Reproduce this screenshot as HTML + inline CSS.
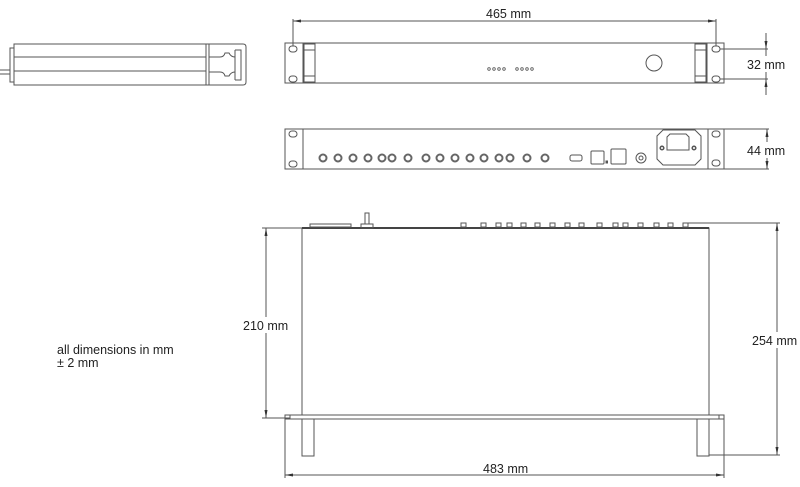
<!DOCTYPE html>
<html><head><meta charset="utf-8"><style>
html,body{margin:0;padding:0;background:#fff;width:800px;height:487px;overflow:hidden}
svg{display:block}
text{font-family:"Liberation Sans",Arial,sans-serif;font-size:12.5px;fill:#222}
</style></head><body>
<svg width="800" height="487" viewBox="0 0 800 487" xmlns="http://www.w3.org/2000/svg">
<g fill="none" stroke="#555" stroke-width="1">
<!-- side view -->
<line x1="0" y1="70" x2="10" y2="70"/><line x1="0" y1="74" x2="10" y2="74"/>
<rect x="10" y="48" width="4" height="34"/>
<rect x="14" y="44" width="192" height="41"/>
<line x1="14" y1="57" x2="206" y2="57"/><line x1="14" y1="71" x2="206" y2="71"/>
<rect x="206" y="44" width="3" height="41"/>
<path d="M209 44 H243 Q246 44 246 47 V82 Q246 85 243 85 H209"/>
<path d="M235 50 V80"/>
<path d="M209 57 H220 Q224 57 225 53 H229 Q231 57 235 57"/>
<path d="M209 72 H220 Q224 72 225 76 H229 Q231 72 235 72"/>
<path d="M235 50 H241 V80 H235"/>

<!-- front view -->
<rect x="285" y="43" width="439" height="40"/>
<line x1="303" y1="43" x2="303" y2="83"/><line x1="707" y1="43" x2="707" y2="83"/>
<rect x="304" y="44" width="11" height="38"/><line x1="304" y1="50" x2="315" y2="50"/><line x1="304" y1="76" x2="315" y2="76"/>
<rect x="695" y="44" width="11" height="38"/><line x1="695" y1="50" x2="706" y2="50"/><line x1="695" y1="76" x2="706" y2="76"/>
<rect x="289" y="46" width="8" height="6" rx="3"/><rect x="289" y="76" width="8" height="6" rx="3"/>
<rect x="712" y="46" width="8" height="6" rx="3"/><rect x="712" y="76" width="8" height="6" rx="3"/>
<circle cx="654" cy="63" r="8"/>
<g stroke-width="0.8">
<circle cx="489" cy="69" r="1.3"/><circle cx="494" cy="69" r="1.3"/><circle cx="499" cy="69" r="1.3"/><circle cx="504" cy="69" r="1.3"/>
<circle cx="517" cy="69" r="1.3"/><circle cx="522" cy="69" r="1.3"/><circle cx="527" cy="69" r="1.3"/><circle cx="532" cy="69" r="1.3"/>
</g>
<!-- 465 dim -->
<line x1="293" y1="21" x2="716" y2="21"/>
<line x1="293" y1="19" x2="293" y2="46"/><line x1="716" y1="19" x2="716" y2="46"/>
<!-- 32 dim -->
<line x1="720" y1="49" x2="768" y2="49"/><line x1="720" y1="79" x2="768" y2="79"/>
<line x1="766" y1="33" x2="766" y2="95"/>

<!-- rear view -->
<rect x="285" y="129" width="439" height="40"/>
<line x1="303" y1="129" x2="303" y2="169"/><line x1="708" y1="129" x2="708" y2="169"/>
<rect x="289" y="131" width="8" height="6" rx="3"/><rect x="289" y="161" width="8" height="6" rx="3"/>
<rect x="712" y="131" width="8" height="6" rx="3"/><rect x="712" y="160" width="8" height="6" rx="3"/>
<g stroke="#666" stroke-width="2">
<circle cx="323" cy="158" r="3.5"/><circle cx="338" cy="158" r="3.5"/><circle cx="353" cy="158" r="3.5"/><circle cx="368" cy="158" r="3.5"/>
<circle cx="382" cy="158" r="3.5"/><circle cx="392" cy="158" r="3.5"/><circle cx="408" cy="158" r="3.5"/><circle cx="426" cy="158" r="3.5"/>
<circle cx="440" cy="158" r="3.5"/><circle cx="455" cy="158" r="3.5"/><circle cx="470" cy="158" r="3.5"/><circle cx="484" cy="158" r="3.5"/>
<circle cx="499" cy="158" r="3.5"/><circle cx="510" cy="158" r="3.5"/><circle cx="527" cy="158" r="3.5"/><circle cx="545" cy="158" r="3.5"/>
</g>
<rect x="570" y="155" width="12" height="6" rx="2"/>
<rect x="591" y="151" width="13" height="13" rx="1"/>
<rect x="606" y="161" width="1.5" height="2" fill="#555"/>
<rect x="611" y="149" width="15" height="15" rx="1"/>
<circle cx="641" cy="158" r="5"/><circle cx="641" cy="158" r="2"/>
<path d="M663 130 H695 L701 136 V159 L695 165 H663 L657 159 V136 Z"/>
<path d="M670 134 H686 L689 137 V150 H667 V137 Z"/>
<circle cx="662" cy="148" r="1.8" stroke-width="1.5"/><circle cx="694" cy="148" r="1.8" stroke-width="1.5"/>
<!-- 44 dim -->
<line x1="724" y1="129" x2="769" y2="129"/><line x1="724" y1="169" x2="769" y2="169"/>
<line x1="767" y1="129" x2="767" y2="169"/>

<!-- top view -->
<rect x="302" y="228" width="407" height="187"/>
<line x1="302" y1="228" x2="709" y2="228" stroke="#444" stroke-width="2"/>
<rect x="310" y="224" width="41" height="3"/>
<rect x="365" y="213" width="4" height="11"/><rect x="361" y="224" width="12" height="4"/>
<g>
<rect x="461" y="223" width="5" height="4"/><rect x="481" y="223" width="5" height="4"/><rect x="496" y="223" width="5" height="4"/><rect x="507" y="223" width="5" height="4"/>
<rect x="521" y="223" width="5" height="4"/><rect x="535" y="223" width="5" height="4"/><rect x="550" y="223" width="5" height="4"/><rect x="565" y="223" width="5" height="4"/>
<rect x="579" y="223" width="5" height="4"/><rect x="597" y="223" width="5" height="4"/><rect x="613" y="223" width="5" height="4"/><rect x="623" y="223" width="5" height="4"/>
<rect x="638" y="223" width="5" height="4"/><rect x="654" y="223" width="5" height="4"/><rect x="668" y="223" width="5" height="4"/><rect x="683" y="223" width="5" height="4"/>
</g>
<rect x="285" y="415" width="439" height="4"/>
<line x1="290" y1="415" x2="290" y2="419"/><line x1="719" y1="415" x2="719" y2="419"/>
<rect x="302" y="419" width="12" height="37"/>
<rect x="697" y="419" width="12" height="37"/>
<!-- 483 dim -->
<line x1="285" y1="419" x2="285" y2="478"/><line x1="724" y1="419" x2="724" y2="478"/>
<line x1="285" y1="475" x2="724" y2="475"/>
<!-- 210 dim -->
<line x1="262" y1="228" x2="302" y2="228"/><line x1="262" y1="418" x2="290" y2="418"/>
<line x1="266" y1="228" x2="266" y2="418"/>
<!-- 254 dim -->
<line x1="688" y1="223" x2="780" y2="223"/><line x1="709" y1="455" x2="780" y2="455"/>
<line x1="777" y1="223" x2="777" y2="455"/>
</g>
<!-- arrows -->
<g fill="#333">
<path d="M293 21 l8 -1.5 v3z"/><path d="M716 21 l-8 -1.5 v3z"/>
<path d="M766 49 l-1.5 -8 h3z"/><path d="M766 79 l-1.5 8 h3z"/>
<path d="M767 129 l-1.5 8 h3z"/><path d="M767 169 l-1.5 -8 h3z"/>
<path d="M285 475 l8 -1.5 v3z"/><path d="M724 475 l-8 -1.5 v3z"/>
<path d="M266 228 l-1.5 8 h3z"/><path d="M266 418 l-1.5 -8 h3z"/>
<path d="M777 223 l-1.5 8 h3z"/><path d="M777 455 l-1.5 -8 h3z"/>
</g>
<rect x="745" y="56" width="46" height="16" fill="#fff"/>
<rect x="745" y="142" width="46" height="16" fill="#fff"/>
<rect x="242" y="317" width="50" height="16" fill="#fff"/>
<rect x="751" y="332" width="49" height="16" fill="#fff"/>
<text x="486" y="18">465 mm</text>
<text x="747" y="69">32 mm</text>
<text x="747" y="155">44 mm</text>
<text x="243" y="330">210 mm</text>
<text x="752" y="345">254 mm</text>
<text x="483" y="473">483 mm</text>
<text x="57" y="354">all dimensions in mm</text>
<text x="57" y="367">± 2 mm</text>
</svg>
</body></html>
